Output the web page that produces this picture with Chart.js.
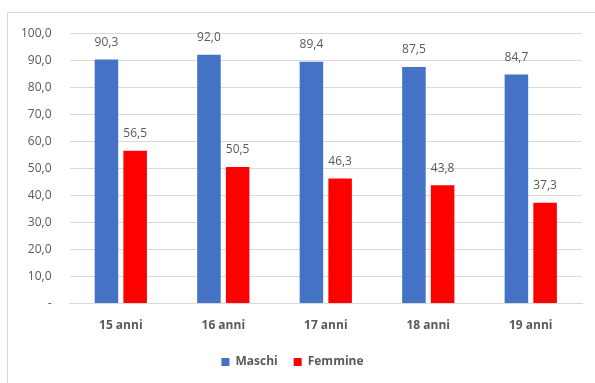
<!DOCTYPE html>
<html>
<head>
<meta charset="utf-8">
<script src="https://cdn.jsdelivr.net/npm/chart.js@4"></script>
<style>
  html, body { margin: 0; padding: 0; background: #fff; overflow: hidden; }
  #frame { position: absolute; left: 7px; top: 12px; width: 600px; height: 400px; border: 1px solid #d9d9d9; }
  #wrap { position: absolute; left: 3px; top: 8px; width: 592px; height: 380px; }
</style>
</head>
<body>
<div id="frame"></div>
<div id="wrap"><canvas id="c"></canvas></div>
<script>
// ── Data ───────────────────────────────────────────────
const categories = ['15 anni', '16 anni', '17 anni', '18 anni', '19 anni'];
const maschi     = [90.3, 92.0, 89.4, 87.5, 84.7];
const femmine    = [56.5, 50.5, 46.3, 43.8, 37.3];

const FONT = "'Open Sans', 'Liberation Sans', sans-serif";
const TEXT = '#595959';
const fmt = v => v.toFixed(1).replace('.', ',');

// value labels above each bar
const valueLabels = {
  id: 'valueLabels',
  afterDatasetsDraw(chart) {
    const ctx = chart.ctx;
    ctx.save();
    ctx.font = `12px ${FONT}`;
    ctx.fillStyle = TEXT;
    ctx.textAlign = 'center';
    ctx.textBaseline = 'middle';
    chart.data.datasets.forEach((ds, i) => {
      chart.getDatasetMeta(i).data.forEach((bar, j) => {
        ctx.fillText(fmt(ds.data[j]), bar.x, bar.y - 17);
      });
    });
    ctx.restore();
  }
};

new Chart(document.getElementById('c'), {
  type: 'bar',
  data: {
    labels: categories,
    datasets: [
      { label: 'Maschi',  data: maschi,  backgroundColor: '#4472c4', categoryPercentage: 0.56, barPercentage: 0.82 },
      { label: 'Femmine', data: femmine, backgroundColor: '#ff0000', categoryPercentage: 0.56, barPercentage: 0.82 },
    ]
  },
  options: {
    responsive: true, maintainAspectRatio: false, animation: false,
    layout: { padding: { left: 0, right: 13, top: 11, bottom: 10 } },
    plugins: {
      legend: {
        position: 'bottom',
        labels: { color: TEXT, boxWidth: 8, boxHeight: 8, padding: 16, font: { family: FONT, size: 12, weight: 'bold' } }
      },
      tooltip: { enabled: false }
    },
    scales: {
      x: {
        grid: { display: false },
        border: { color: '#d9d9d9' },
        ticks: { color: TEXT, padding: 7, font: { family: FONT, size: 12, weight: 'bold' } }
      },
      y: {
        min: 0, max: 100,
        grid: { color: '#d9d9d9', drawTicks: false },
        border: { display: false },
        ticks: { stepSize: 10, color: TEXT, padding: 18, font: { family: FONT, size: 12 }, callback: v => v === 0 ? '-' : fmt(v) }
      }
    }
  },
  plugins: [valueLabels]
});
</script>
</body>
</html>
